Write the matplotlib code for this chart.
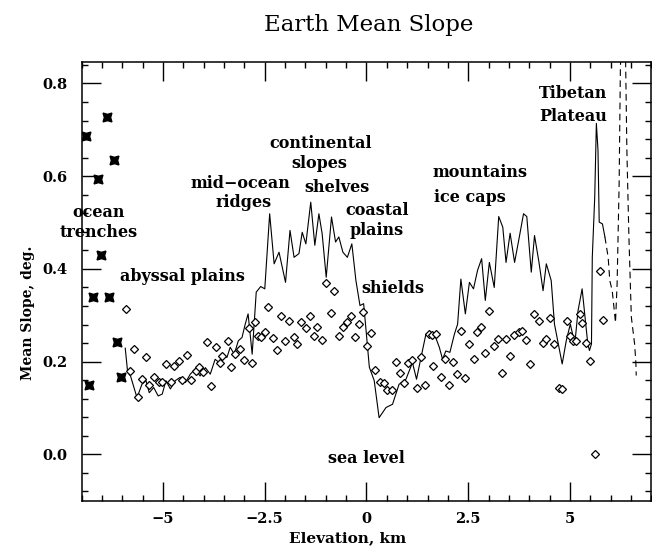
import matplotlib

matplotlib.use("Agg")
import matplotlib.pyplot as plt
from matplotlib.ticker import MultipleLocator

plt.rcParams["font.family"] = ["DejaVu Serif", "DejaVu Sans"]

# ocean trenches (star markers)
trench_x = [-6.90, -6.61, -6.38, -6.20, -6.53, -6.72, -6.32, -6.12, -6.03, -6.83]
trench_y = [0.687, 0.593, 0.728, 0.634, 0.429, 0.340, 0.340, 0.243, 0.166, 0.149]

# mean slope curve (solid part)
line_x = [-5.93, -5.87, -5.80, -5.64, -5.52, -5.42, -5.34, -5.23, -5.12, -5.02,
          -4.93, -4.82, -4.70, -4.58, -4.45, -4.33, -4.21, -4.09, -3.96, -3.84,
          -3.72, -3.62, -3.54, -3.43, -3.35, -3.25, -3.15, -3.06, -2.98, -2.91,
          -2.81, -2.71, -2.60, -2.50, -2.38, -2.27, -2.15, -1.99, -1.88, -1.78,
          -1.66, -1.58, -1.49, -1.37, -1.27, -1.17, -1.09, -0.99, -0.86, -0.76,
          -0.68, -0.58, -0.47, -0.36, -0.26, -0.16, -0.07, -0.01, 0.07, 0.19,
          0.31, 0.48, 0.64, 0.80, 0.97, 1.13, 1.23, 1.34, 1.46, 1.56,
          1.67, 1.79, 1.87, 1.95, 2.05, 2.16, 2.24, 2.32, 2.43, 2.53,
          2.63, 2.73, 2.83, 2.92, 3.02, 3.14, 3.25, 3.35, 3.43, 3.53,
          3.64, 3.74, 3.86, 3.94, 4.05, 4.13, 4.24, 4.34, 4.42, 4.54,
          4.62, 4.81, 4.91, 5.01, 5.12, 5.20, 5.30, 5.44, 5.48, 5.53,
          5.55, 5.61, 5.65, 5.69, 5.72, 5.80, 5.86]
line_y = [0.229, 0.177, 0.169, 0.122, 0.151, 0.159, 0.133, 0.144, 0.126, 0.130,
          0.159, 0.141, 0.159, 0.166, 0.155, 0.173, 0.184, 0.169, 0.187, 0.173,
          0.205, 0.198, 0.216, 0.209, 0.231, 0.216, 0.245, 0.252, 0.281, 0.303,
          0.216, 0.350, 0.362, 0.357, 0.519, 0.411, 0.436, 0.371, 0.483, 0.425,
          0.433, 0.479, 0.454, 0.544, 0.451, 0.519, 0.476, 0.382, 0.512, 0.458,
          0.469, 0.436, 0.425, 0.454, 0.375, 0.321, 0.325, 0.267, 0.188, 0.159,
          0.079, 0.101, 0.108, 0.151, 0.162, 0.198, 0.162, 0.209, 0.259, 0.263,
          0.259, 0.231, 0.205, 0.223, 0.220, 0.259, 0.281, 0.378, 0.303, 0.371,
          0.357, 0.397, 0.422, 0.332, 0.414, 0.360, 0.513, 0.490, 0.414, 0.477,
          0.414, 0.461, 0.519, 0.513, 0.393, 0.472, 0.414, 0.353, 0.411, 0.375,
          0.281, 0.195, 0.245, 0.281, 0.238, 0.310, 0.357, 0.238, 0.224, 0.238,
          0.425, 0.555, 0.714, 0.656, 0.501, 0.497, 0.469]

# sparse high-elevation part (dashed)
dash_x = [5.86, 5.94, 5.98, 6.04, 6.10, 6.12, 6.16, 6.21, 6.24, 6.28,
          6.34, 6.37, 6.40, 6.45, 6.51, 6.59, 6.62, 6.63]
dash_y = [0.469, 0.425, 0.375, 0.353, 0.302, 0.284, 0.368, 0.584, 0.829, 0.95,
          0.95, 0.843, 0.656, 0.469, 0.296, 0.238, 0.200, 0.170]

# diamonds
diam_x = [-5.91, -5.82, -5.71, -5.62, -5.52, -5.42, -5.34, -5.22, -5.11, -5.03,
          -4.93, -4.81, -4.72, -4.61, -4.53, -4.41, -4.31, -4.20, -4.12, -4.02,
          -3.91, -3.82, -3.71, -3.60, -3.55, -3.41, -3.32, -3.22, -3.11, -3.01,
          -2.89, -2.81, -2.73, -2.66, -2.60, -2.50, -2.41, -2.30, -2.21, -2.09,
          -2.00, -1.90, -1.79, -1.70, -1.60, -1.49, -1.39, -1.29, -1.21, -1.09,
          -0.99, -0.88, -0.79, -0.67, -0.58, -0.47, -0.37, -0.28, -0.18, -0.08,
          0.02, 0.12, 0.22, 0.33, 0.43, 0.51, 0.62, 0.72, 0.82, 0.93,
          1.03, 1.13, 1.23, 1.34, 1.44, 1.53, 1.61, 1.63, 1.72, 1.83,
          1.93, 2.02, 2.13, 2.23, 2.32, 2.42, 2.51, 2.64, 2.71, 2.82,
          2.92, 3.02, 3.13, 3.23, 3.33, 3.43, 3.53, 3.62, 3.74, 3.83,
          3.92, 4.03, 4.11, 4.24, 4.34, 4.42, 4.52, 4.62, 4.73, 4.81,
          4.93, 5.01, 5.08, 5.14, 5.24, 5.30, 5.40, 5.50, 5.61, 5.73,
          5.81]
diam_y = [0.313, 0.180, 0.227, 0.123, 0.162, 0.209, 0.150, 0.167, 0.155, 0.155,
          0.195, 0.156, 0.191, 0.202, 0.160, 0.215, 0.160, 0.180, 0.189, 0.177,
          0.243, 0.148, 0.231, 0.198, 0.213, 0.245, 0.189, 0.216, 0.227, 0.203,
          0.272, 0.198, 0.285, 0.256, 0.254, 0.263, 0.318, 0.251, 0.225, 0.299,
          0.245, 0.288, 0.254, 0.238, 0.285, 0.273, 0.299, 0.256, 0.274, 0.247,
          0.369, 0.304, 0.353, 0.256, 0.274, 0.285, 0.299, 0.254, 0.281, 0.308,
          0.234, 0.261, 0.182, 0.155, 0.153, 0.139, 0.138, 0.199, 0.176, 0.153,
          0.196, 0.203, 0.143, 0.209, 0.150, 0.259, 0.257, 0.191, 0.259, 0.167,
          0.205, 0.150, 0.200, 0.173, 0.266, 0.164, 0.238, 0.205, 0.263, 0.275,
          0.218, 0.309, 0.233, 0.249, 0.175, 0.249, 0.213, 0.258, 0.263, 0.265,
          0.247, 0.195, 0.303, 0.288, 0.240, 0.249, 0.295, 0.238, 0.143, 0.141,
          0.288, 0.256, 0.245, 0.244, 0.302, 0.284, 0.241, 0.202, 0.0, 0.395,
          0.290]

# annotation text and where it sits (data coords)
labels = ["ocean", "trenches", "abyssal plains", "mid\u2212ocean", "ridges",
          "continental", "slopes", "shelves", "coastal", "plains", "shields",
          "mountains", "ice caps", "Tibetan", "Plateau", "sea level"]
label_x = [-6.58, -6.58, -4.53, -3.10, -3.03, -1.12, -1.17, -0.72, 0.26, 0.24,
           0.66, 2.78, 2.53, 5.07, 5.07, 0.0]
label_y = [0.522, 0.479, 0.383, 0.584, 0.544, 0.671, 0.628, 0.576, 0.526, 0.483,
           0.357, 0.608, 0.554, 0.779, 0.729, -0.01]

xticks = [-5, -2.5, 0, 2.5, 5]
xticklabels = ["\u22125", "\u22122.5", "0", "2.5", "5"]
yticks = [0.0, 0.2, 0.4, 0.6, 0.8]
yticklabels = ["0.0", "0.2", "0.4", "0.6", "0.8"]

fig = plt.figure(figsize=(6.52, 5.46), dpi=100)
ax = fig.add_axes([0.1253, 0.083, 0.8736, 0.804])

ax.plot(line_x, line_y, color="black", lw=0.8)
ax.plot(dash_x, dash_y, color="black", lw=0.8, dashes=(6, 4))
ax.plot(diam_x, diam_y, ls="none", marker="D", ms=4.3, mfc="white",
        mec="black", mew=0.9)
ax.plot(trench_x, trench_y, ls="none", marker=(4, 1, 45), ms=9,
        color="black")

for t, x, y in zip(labels, label_x, label_y):
    ax.text(x, y, t, ha="center", va="center", fontsize=11.5,
            fontweight="bold")

ax.set_xlim(-7, 7)
ax.set_ylim(-0.1, 0.847)
ax.set_xticks(xticks, xticklabels)
ax.set_yticks(yticks, yticklabels)
ax.xaxis.set_minor_locator(MultipleLocator(0.5))
ax.yaxis.set_minor_locator(MultipleLocator(0.04))
ax.tick_params(which="both", direction="in", top=True, right=True,
               width=1.0, labelsize=10.5)
ax.tick_params(which="major", length=13.5)
ax.tick_params(which="minor", length=4.5)
ax.tick_params(axis="y", pad=10)
ax.tick_params(axis="x", pad=8)
for lab in ax.get_xticklabels() + ax.get_yticklabels():
    lab.set_fontweight("bold")
for s in ax.spines.values():
    s.set_linewidth(1.1)

ax.set_xlabel("Elevation, km", fontsize=11, fontweight="bold")
ax.xaxis.set_label_coords(0.467, -0.069)
ax.set_ylabel("Mean Slope, deg.", fontsize=10, fontweight="bold")
ax.yaxis.set_label_coords(-0.082, 0.428)

fig.text(0.566, 0.955, "Earth Mean Slope", ha="center", va="center",
         fontsize=16.5)

fig.savefig("out.png", dpi=100)
